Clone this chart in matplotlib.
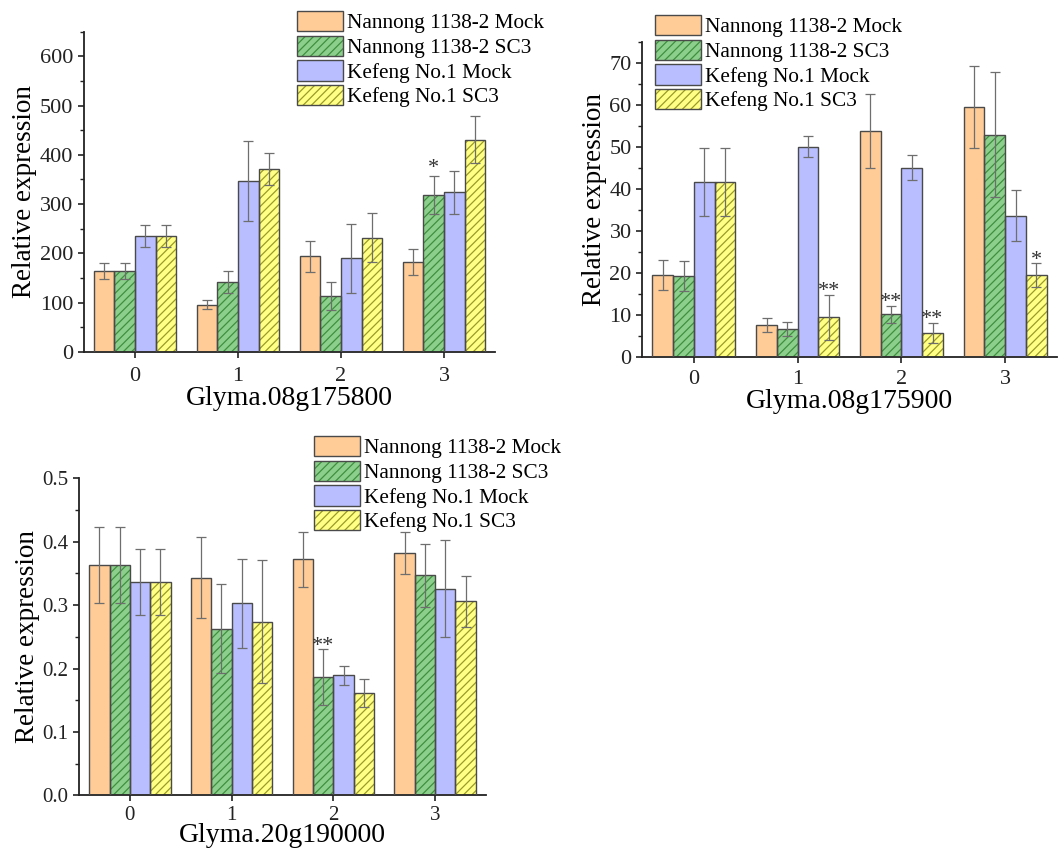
import matplotlib
matplotlib.use('Agg')
import matplotlib.pyplot as plt
import numpy as np
from matplotlib.ticker import MultipleLocator

plt.rcParams['font.family'] = ['Liberation Serif', 'DejaVu Serif']
plt.rcParams['hatch.linewidth'] = 0.9

time_points = ['0', '1', '2', '3']
series_names = ['Nannong 1138-2 Mock', 'Nannong 1138-2 SC3',
                'Kefeng No.1 Mock', 'Kefeng No.1 SC3']

# Panel A: Glyma.08g175800
a_nm = [165, 96, 194, 183]
a_nm_err = [16, 9, 31, 26]
a_ns = [165, 142, 113, 318]
a_ns_err = [16, 23, 28, 39]
a_km = [236, 347, 190, 324]
a_km_err = [22, 82, 70, 44]
a_ks = [236, 371, 232, 431]
a_ks_err = [22, 32, 50, 47]

# Panel B: Glyma.08g175900
b_nm = [19.4, 7.5, 53.7, 59.5]
b_nm_err = [3.6, 1.7, 8.8, 9.7]
b_ns = [19.3, 6.6, 10.1, 52.9]
b_ns_err = [3.6, 1.6, 2.0, 14.8]
b_km = [41.6, 50.0, 45.0, 33.6]
b_km_err = [8.0, 2.5, 3.0, 6.0]
b_ks = [41.6, 9.4, 5.7, 19.4]
b_ks_err = [8.0, 5.4, 2.4, 2.8]

# Panel C: Glyma.20g190000
c_nm = [0.363, 0.343, 0.372, 0.382]
c_nm_err = [0.060, 0.064, 0.043, 0.033]
c_ns = [0.363, 0.263, 0.187, 0.347]
c_ns_err = [0.060, 0.070, 0.044, 0.050]
c_km = [0.337, 0.303, 0.189, 0.326]
c_km_err = [0.052, 0.070, 0.015, 0.077]
c_ks = [0.337, 0.274, 0.161, 0.306]
c_ks_err = [0.052, 0.097, 0.022, 0.040]

# significance marks: (series index, time index, text)
a_marks = [(1, 3, '*')]
b_marks = [(3, 1, '**'), (1, 2, '**'), (3, 2, '**'), (3, 3, '*')]
c_marks = [(1, 2, '**')]

face_colors = ['#FFCB96', '#8CCF8C', '#B8BEFF', '#FFFF85']
hatch_colors = ['#FFCB96', '#3F8F3F', '#B8BEFF', '#9A9A2A']
hatches = [None, '////', None, '////']
edge_color = '#4A4A4A'
err_color = '#6E6E6E'

W, H = 1063, 850
fig = plt.figure(figsize=(W / 100, H / 100), dpi=100)


def px_axes(left, right, bottom, top):
    return fig.add_axes([left / W, (H - bottom) / H, (right - left) / W, (bottom - top) / H])


def draw_panel(ax, means, errs, marks, ylim, major, minor, xlabel,
               legend_xy, tick_fs, mark_off, xpad, xlabelpad):
    x = np.arange(len(time_points))
    width = 0.2
    handles = []
    for i, (m, e) in enumerate(zip(means, errs)):
        xi = x + (i - 1.5) * width
        b1 = ax.bar(xi, m, width, color=face_colors[i], edgecolor=hatch_colors[i],
                    hatch=hatches[i], linewidth=0, zorder=2)
        b2 = ax.bar(xi, m, width, fill=False, edgecolor=edge_color,
                    linewidth=1.0, zorder=3)
        ax.errorbar(xi, m, yerr=e, fmt='none', ecolor=err_color, elinewidth=0.9,
                    capsize=3.3, capthick=0.9, zorder=4)
        handles.append((b1, b2))
    for (si, ti, txt) in marks:
        xm = x[ti] + (si - 1.5) * width
        ym = means[si][ti] + errs[si][ti]
        ax.annotate(txt, (xm, ym), xytext=(0, mark_off), textcoords='offset points',
                    ha='center', va='baseline', fontsize=16, color='#333333')
    ax.set_xlim(-0.5, 3.5)
    ax.set_ylim(*ylim)
    ax.set_xticks(x)
    ax.set_xticklabels(time_points)
    ax.yaxis.set_major_locator(MultipleLocator(major))
    ax.yaxis.set_minor_locator(MultipleLocator(minor))
    for s in ['top', 'right']:
        ax.spines[s].set_visible(False)
    for s in ['left', 'bottom']:
        ax.spines[s].set_linewidth(1.3)
        ax.spines[s].set_color('#222222')
    ax.tick_params(axis='both', which='major', direction='out', length=4.5, width=1.2,
                   labelsize=tick_fs, pad=3, colors='#222222')
    ax.tick_params(axis='x', which='major', pad=xpad)
    ax.tick_params(axis='y', which='minor', direction='out', length=2.8, width=1.0,
                   colors='#222222')
    ax.set_ylabel('Relative expression', fontsize=19.5, labelpad=2)
    ax.set_xlabel(xlabel, fontsize=20, labelpad=xlabelpad)
    fig.legend(handles, series_names, loc='upper left',
               bbox_to_anchor=(legend_xy[0] / W, 1 - legend_xy[1] / H),
               frameon=False, fontsize=15.3, borderpad=0, borderaxespad=0,
               handlelength=2.15, handleheight=1.1, handletextpad=0.2,
               labelspacing=0.1)


ax1 = px_axes(83.5, 495.5, 352, 31.6)
draw_panel(ax1, [a_nm, a_ns, a_km, a_ks], [a_nm_err, a_ns_err, a_km_err, a_ks_err],
           a_marks, (0, 650), 100, 50, 'Glyma.08g175800', (297, 11), 16, 2, 6, 0)

ax2 = px_axes(642, 1057, 356.7, 41.7)
draw_panel(ax2, [b_nm, b_ns, b_km, b_ks], [b_nm_err, b_ns_err, b_km_err, b_ks_err],
           b_marks, (0, 75), 10, 5, 'Glyma.08g175900', (655, 15), 16, -1, 5, 0)

ax3 = px_axes(79, 486, 795.3, 478.3)
draw_panel(ax3, [c_nm, c_ns, c_km, c_ks], [c_nm_err, c_ns_err, c_km_err, c_ks_err],
           c_marks, (0, 0.5), 0.1, 0.05, 'Glyma.20g190000', (314, 436), 15, -1.5, 3.5, -1.5)

fig.savefig('out.png', dpi=100)
